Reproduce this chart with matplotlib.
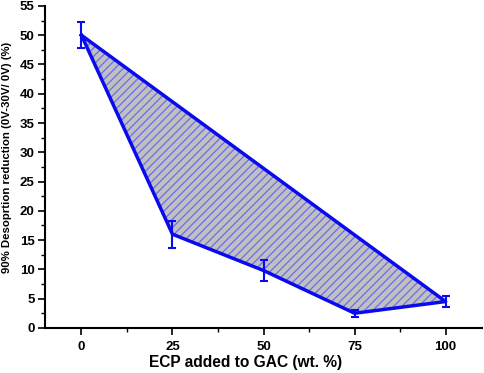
import matplotlib
matplotlib.use('Agg')
import matplotlib.pyplot as plt
from matplotlib.ticker import MultipleLocator
import numpy as np

plt.rcParams['font.family'] = ['Liberation Sans', 'DejaVu Sans']
plt.rcParams['font.weight'] = 'bold'
plt.rcParams['hatch.color'] = '#6b6bf0'
plt.rcParams['hatch.linewidth'] = 0.9

ecp = [0, 25, 50, 75, 100]
reduction = [50.0, 16.0, 9.8, 2.5, 4.5]
err = [2.2, 2.3, 1.8, 0.6, 1.0]

fig = plt.figure(figsize=(4.84, 3.73), dpi=100)
ax = fig.add_axes([0.093, 0.121, 0.903, 0.863])

# polygon: curve then close back to first point
px = ecp + [ecp[0]]
py = reduction + [reduction[0]]
ax.fill(px, py, facecolor='#c0c0c0', edgecolor='#6b6bf0', hatch='////', linewidth=0, zorder=1)
ax.plot(px, py, color='#0a0af0', linewidth=2.5, zorder=2)
ax.errorbar(ecp, reduction, yerr=err, fmt='none', ecolor='#0a0af0', elinewidth=1.5, capsize=3, capthick=1.5, zorder=3)

ax.set_xlim(-10, 110)
ax.set_ylim(0, 55)
ax.xaxis.set_major_locator(MultipleLocator(25))
ax.xaxis.set_minor_locator(MultipleLocator(12.5))
ax.yaxis.set_major_locator(MultipleLocator(5))
ax.yaxis.set_minor_locator(MultipleLocator(2.5))
ax.spines['top'].set_visible(False)
ax.spines['right'].set_visible(False)
ax.spines['left'].set_linewidth(1.5)
ax.spines['bottom'].set_linewidth(1.5)
ax.tick_params(which='major', length=5, width=1.2, labelsize=9.5)
ax.tick_params(which='minor', length=3, width=1.0)
ax.tick_params(axis='x', pad=4.5)
ax.tick_params(axis='y', pad=2.5)

ax.set_xlabel('ECP added to GAC (wt. %)', fontsize=11.2, fontweight='bold')
ax.xaxis.set_label_coords(0.46, -0.083)
ax.set_ylabel('90% Desoprtion reduction (0V-30V/ 0V) (%)', fontsize=8.2, fontweight='bold')
ax.yaxis.set_label_coords(-0.076, 0.53)

fig.savefig('out.png', dpi=100)
